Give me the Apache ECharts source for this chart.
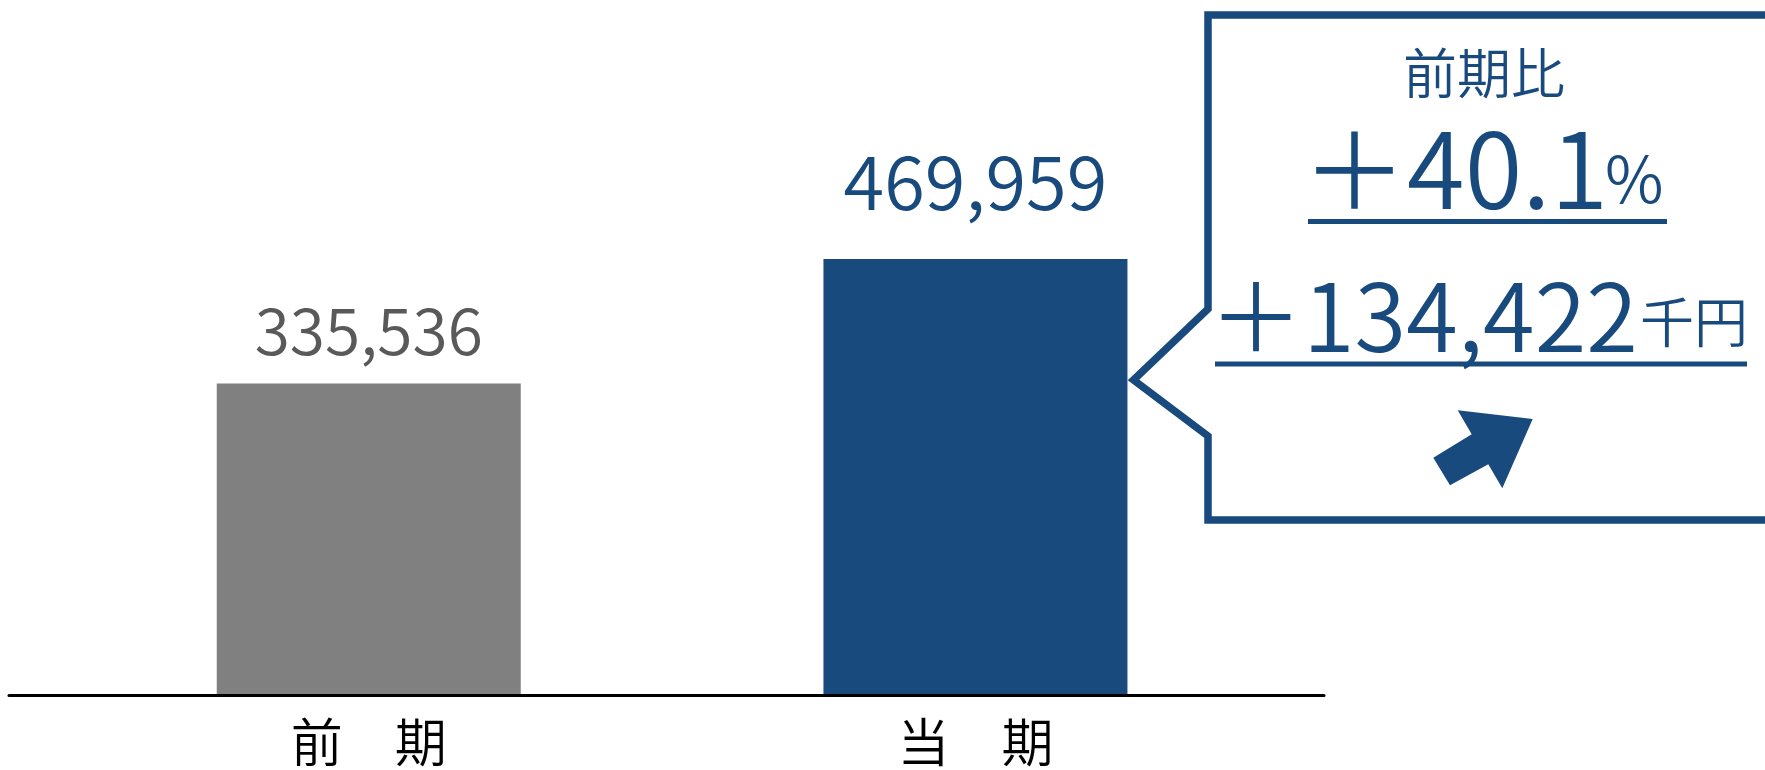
<!DOCTYPE html>
<html>
<head>
<meta charset="utf-8">
<script src="https://cdn.jsdelivr.net/npm/echarts@6/dist/echarts.min.js"></script>
<style>
  html, body { margin: 0; padding: 0; background: #ffffff; }
  #chart { width: 1765px; height: 770px; }
</style>
</head>
<body>
<div id="chart"></div>
<script>
// ---- data ----
const categories = ['前　期', '当　期'];
const values = [335536, 469959];
const calloutTitle = ['前期比'];
const ratioText = ['＋40.1', '%'];
const diffText = ['＋134,422', '千円'];

// ---- styles ----
const BLUE = '#184a7e';
const GRAY = '#808080';
const GRAY_TEXT = '#595959';
const FONT = '"Noto Sans CJK JP", "Noto Sans", sans-serif';
const W = 350;
const barStyles = [
  { color: GRAY, labelColor: GRAY_TEXT, fontSize: 64, distance: 21 },
  { color: BLUE, labelColor: BLUE, fontSize: 74, distance: 40 }
];

const chart = echarts.init(document.getElementById('chart'), null, { renderer: 'canvas' });

const barData = values.map((v, i) => ({
  value: v,
  itemStyle: { color: barStyles[i].color },
  label: {
    show: true,
    position: 'top',
    distance: barStyles[i].distance,
    color: barStyles[i].labelColor,
    fontSize: barStyles[i].fontSize,
    fontWeight: W,
    fontFamily: FONT,
    formatter: p => Number(p.value).toLocaleString('en-US')
  }
}));

const option = {
  backgroundColor: '#ffffff',
  animation: false,
  grid: [
    { left: 65.4, right: 486.2, top: 138.2, bottom: 75 },
    { left: 9, right: 441, top: 138.2, bottom: 75 }
  ],
  xAxis: [
    {
      type: 'category',
      gridIndex: 0,
      data: categories,
      axisLine: { show: false },
      axisTick: { show: false },
      axisLabel: { color: '#000000', fontSize: 52, fontWeight: W, fontFamily: FONT, margin: 21 }
    },
    {
      type: 'category',
      gridIndex: 1,
      data: ['', ''],
      z: 5,
      axisLine: { show: true, lineStyle: { color: '#000000', width: 3 } },
      axisTick: { show: false },
      axisLabel: { show: false }
    }
  ],
  yAxis: [
    { type: 'value', gridIndex: 0, min: 0, max: 600000, show: false, splitLine: { show: false } },
    { type: 'value', gridIndex: 1, min: 0, max: 600000, show: false, splitLine: { show: false } }
  ],
  series: [{
    type: 'bar',
    xAxisIndex: 0,
    yAxisIndex: 0,
    barWidth: 304,
    data: barData
  }],
  graphic: [
    // callout frame (continues past the right edge)
    {
      type: 'polyline',
      shape: { points: [[1780, 15], [1208, 15], [1208, 309], [1133.5, 380], [1208, 436], [1208, 520], [1780, 520]] },
      style: { stroke: BLUE, lineWidth: 7.5, fill: null, lineJoin: 'miter' },
      z: 10
    },
    {
      type: 'text', x: 1484, y: 73.5,
      style: { text: calloutTitle[0], fill: BLUE, font: W + ' 54px ' + FONT, align: 'center', verticalAlign: 'middle' },
      z: 10
    },
    {
      type: 'text', x: 1302, y: 169.5,
      style: { text: ratioText[0], fill: BLUE, font: W + ' 105px ' + FONT, align: 'left', verticalAlign: 'middle' },
      z: 10
    },
    {
      type: 'text', x: 1605, y: 178.5,
      style: { text: ratioText[1], fill: BLUE, font: W + ' 64px ' + FONT, align: 'left', verticalAlign: 'middle' },
      z: 10
    },
    {
      type: 'line',
      shape: { x1: 1308, y1: 221.5, x2: 1667, y2: 221.5 },
      style: { stroke: BLUE, lineWidth: 5 },
      z: 10
    },
    {
      type: 'text', x: 1209, y: 316.5,
      style: { text: diffText[0], fill: BLUE, font: W + ' 94px ' + FONT, align: 'left', verticalAlign: 'middle' },
      z: 10
    },
    {
      type: 'text', x: 1640, y: 322.5,
      style: { text: diffText[1], fill: BLUE, font: W + ' 54px ' + FONT, align: 'left', verticalAlign: 'middle' },
      z: 10
    },
    {
      type: 'line',
      shape: { x1: 1215, y1: 364, x2: 1747, y2: 364 },
      style: { stroke: BLUE, lineWidth: 5 },
      z: 11
    },
    // up-right arrow
    {
      type: 'polygon',
      shape: { points: [[1433.3, 457.7], [1471.7, 434.3], [1457.7, 410.3], [1532.7, 419], [1502.3, 488.3], [1488.3, 464.3], [1450, 485.3]] },
      style: { fill: BLUE },
      z: 10
    }
  ]
};

chart.setOption(option);
</script>
</body>
</html>
